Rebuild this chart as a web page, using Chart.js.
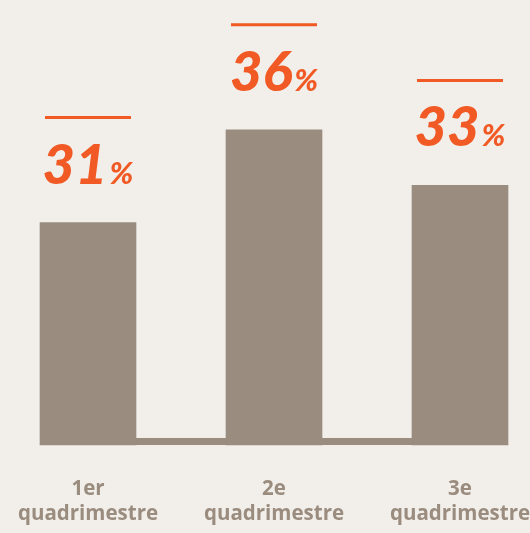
<!DOCTYPE html>
<html>
<head>
<meta charset="utf-8">
<script src="https://cdn.jsdelivr.net/npm/chart.js@4/dist/chart.umd.min.js"></script>
<style>
  html, body { margin: 0; padding: 0; background: #f2efea; }
  #wrap { position: relative; width: 530px; height: 533px; }
</style>
</head>
<body>
<div id="wrap"><canvas id="c"></canvas></div>
<script>
// Share per quadrimestre, with the value drawn above each bar.
const categories = [['1er', 'quadrimestre'], ['2e', 'quadrimestre'], ['3e', 'quadrimestre']];
const shares = [31, 36, 33];

const Y_MIN = 19, Y_MAX = 43;
const BAR = '#9a8c7e';
const ORANGE = '#f15a24';

// baseline strip that joins the bars
const baselinePlugin = {
  id: 'baseline',
  beforeDatasetsDraw(chart) {
    const bars = chart.getDatasetMeta(0).data;
    if (!bars.length) return;
    const first = bars[0], last = bars[bars.length - 1];
    const left = first.x - first.width / 2;
    const right = last.x + last.width / 2;
    const bot = chart.chartArea.bottom;
    const ctx = chart.ctx;
    ctx.save();
    ctx.fillStyle = BAR;
    ctx.fillRect(left, bot - 7, right - left, 7);
    ctx.restore();
  },
};

// orange rule + big italic number + small % above each bar
const valueLabelsPlugin = {
  id: 'value-labels',
  afterDatasetsDraw(chart) {
    const ctx = chart.ctx;
    const bars = chart.getDatasetMeta(0).data;
    ctx.save();
    bars.forEach((bar, i) => {
      const half = bar.width / 2 - 5;
      ctx.strokeStyle = ORANGE;
      ctx.lineWidth = 3;
      ctx.beginPath();
      ctx.moveTo(bar.x - half, bar.y - 105);
      ctx.lineTo(bar.x + half, bar.y - 105);
      ctx.stroke();

      const num = String(shares[i]);
      const bigFont = 'italic 900 56px Lato, "Open Sans", sans-serif';
      const smallFont = 'italic 900 31px Lato, "Open Sans", sans-serif';
      ctx.font = bigFont;
      const wNum = ctx.measureText(num).width;
      ctx.font = smallFont;
      const wPct = ctx.measureText('%').width;
      const gap = 2;
      const x0 = bar.x - (wNum + gap + wPct) / 2;
      const base = bar.y - 39;
      ctx.fillStyle = ORANGE;
      ctx.textAlign = 'left';
      ctx.textBaseline = 'alphabetic';
      ctx.font = bigFont;
      ctx.fillText(num, x0, base);
      ctx.font = smallFont;
      ctx.fillText('%', x0 + wNum + gap, base);
    });
    ctx.restore();
  },
};

new Chart(document.getElementById('c'), {
  type: 'bar',
  data: {
    labels: categories,
    datasets: [{
      data: shares,
      base: Y_MIN,
      backgroundColor: BAR,
      borderWidth: 0,
      barThickness: 96,
      clip: false,
    }],
  },
  options: {
    responsive: true, maintainAspectRatio: false, animation: false,
    layout: { padding: { left: 88, right: 70, top: 0, bottom: 0 } },
    scales: {
      x: {
        offset: false,
        grid: { display: false, drawTicks: false },
        border: { display: false },
        ticks: {
          color: BAR, padding: 31, maxRotation: 0, autoSkip: false,
          font: { family: '"Open Sans", Lato, sans-serif', weight: 'bold', size: 20.5, lineHeight: 1.24 },
        },
        // fixed axis band; labels may overhang the plot edges
        afterFit(scale) {
          scale.height = 88;
          scale.paddingLeft = 0;
          scale.paddingRight = 0;
        },
      },
      y: { display: false, min: Y_MIN, max: Y_MAX },
    },
    plugins: { legend: { display: false }, tooltip: { enabled: false } },
  },
  plugins: [baselinePlugin, valueLabelsPlugin],
});
</script>
</body>
</html>
